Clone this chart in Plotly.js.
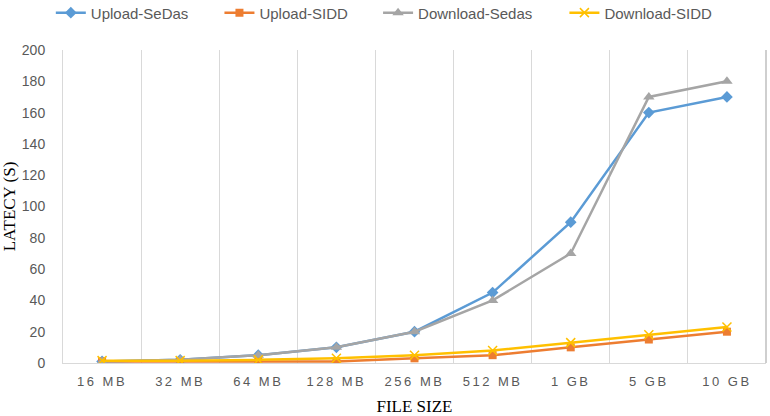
<!DOCTYPE html>
<html>
<head>
<meta charset="utf-8">
<script src="https://cdn.plot.ly/plotly-3.0.1.min.js"></script>
<style>
body{margin:0;padding:0;background:#fff;}
#chart{width:770px;height:416px;}
.xtick text{letter-spacing:2.5px;}
</style>
</head>
<body>
<div id="chart"></div>
<script>
const categories = ["16 MB","32 MB","64 MB","128 MB","256 MB","512 MB","1 GB","5 GB","10 GB"];
const uploadSeDas = [1, 2, 5, 10, 20, 45, 90, 160, 170];
const uploadSIDD = [1, 1, 1, 1, 3, 5, 10, 15, 20];
const downloadSedas = [1, 2, 5, 10, 20, 40, 70, 170, 180];
const downloadSIDD = [1.5, 1.5, 2, 3, 5, 8, 13, 18, 23];
const seriesNames = ["Upload-SeDas","Upload-SIDD","Download-Sedas","Download-SIDD"];
const yTicks = [0,20,40,60,80,100,120,140,160,180,200];

const idx = categories.map((_, i) => i);
function tr(name, y, color, symbol, size, legendId) {
  return {
    x: idx, y: y, name: name, type: 'scatter', mode: 'lines+markers',
    legend: legendId,
    line: {color: color, width: 2.5},
    marker: {symbol: symbol, size: size, color: color, line: {color: color, width: symbol === 'x-thin' ? 1.5 : 0}}
  };
}
const data = [
  tr(seriesNames[0], uploadSeDas, '#5B9BD5', 'diamond', 9, 'legend'),
  tr(seriesNames[1], uploadSIDD, '#ED7D31', 'square', 8, 'legend2'),
  tr(seriesNames[2], downloadSedas, '#A5A5A5', 'triangle-up', 10, 'legend3'),
  tr(seriesNames[3], downloadSIDD, '#FFC000', 'x-thin', 9, 'legend4')
];
function leg(x) {
  return {
    orientation: 'h', xref: 'container', yref: 'container',
    x: x, y: 0.969, xanchor: 'left', yanchor: 'middle',
    font: {family: 'Liberation Sans, Arial, sans-serif', size: 15, color: '#595959'},
    bgcolor: 'rgba(0,0,0,0)'
  };
}
const layout = {
  width: 770, height: 416,
  margin: {l: 63, r: 4, t: 50, b: 53},
  paper_bgcolor: '#fff', plot_bgcolor: '#fff',
  showlegend: true,
  legend: leg(0.066),
  legend2: leg(0.285),
  legend3: leg(0.491),
  legend4: leg(0.733),
  xaxis: {
    range: [-0.5, 8.5],
    tickmode: 'array', tickvals: idx, ticktext: categories,
    showgrid: false, zeroline: false,
    showline: true, linecolor: '#D9D9D9', linewidth: 1, mirror: false,
    ticks: '', ticklabelstandoff: 6,
    tickfont: {family: 'Liberation Sans, Arial, sans-serif', size: 13, color: '#595959'},
    minor: {tickmode: 'linear', tick0: -0.5, dtick: 1, showgrid: true, gridcolor: '#D9D9D9', gridwidth: 1, ticks: ''},
    title: {text: 'FILE SIZE', font: {family: 'Liberation Serif, Times New Roman, serif', size: 17, color: '#000'}, standoff: 12}
  },
  yaxis: {
    range: [0, 200], tickmode: 'array', tickvals: yTicks,
    showgrid: false, zeroline: false,
    showline: true, linecolor: '#D9D9D9', linewidth: 1,
    ticks: '', ticklabelstandoff: 14,
    tickfont: {family: 'Liberation Sans, Arial, sans-serif', size: 14, color: '#595959'},
    title: {text: 'LATECY (S)', font: {family: 'Liberation Serif, Times New Roman, serif', size: 17, color: '#000'}, standoff: 4}
  },
  shapes: [
    {type: 'line', xref: 'paper', yref: 'paper', x0: 1, x1: 1, y0: 0, y1: 1, line: {color: '#BFBFBF', width: 1.5}}
  ]
};
Plotly.newPlot('chart', data, layout, {displayModeBar: false, staticPlot: true});
</script>
</body>
</html>
